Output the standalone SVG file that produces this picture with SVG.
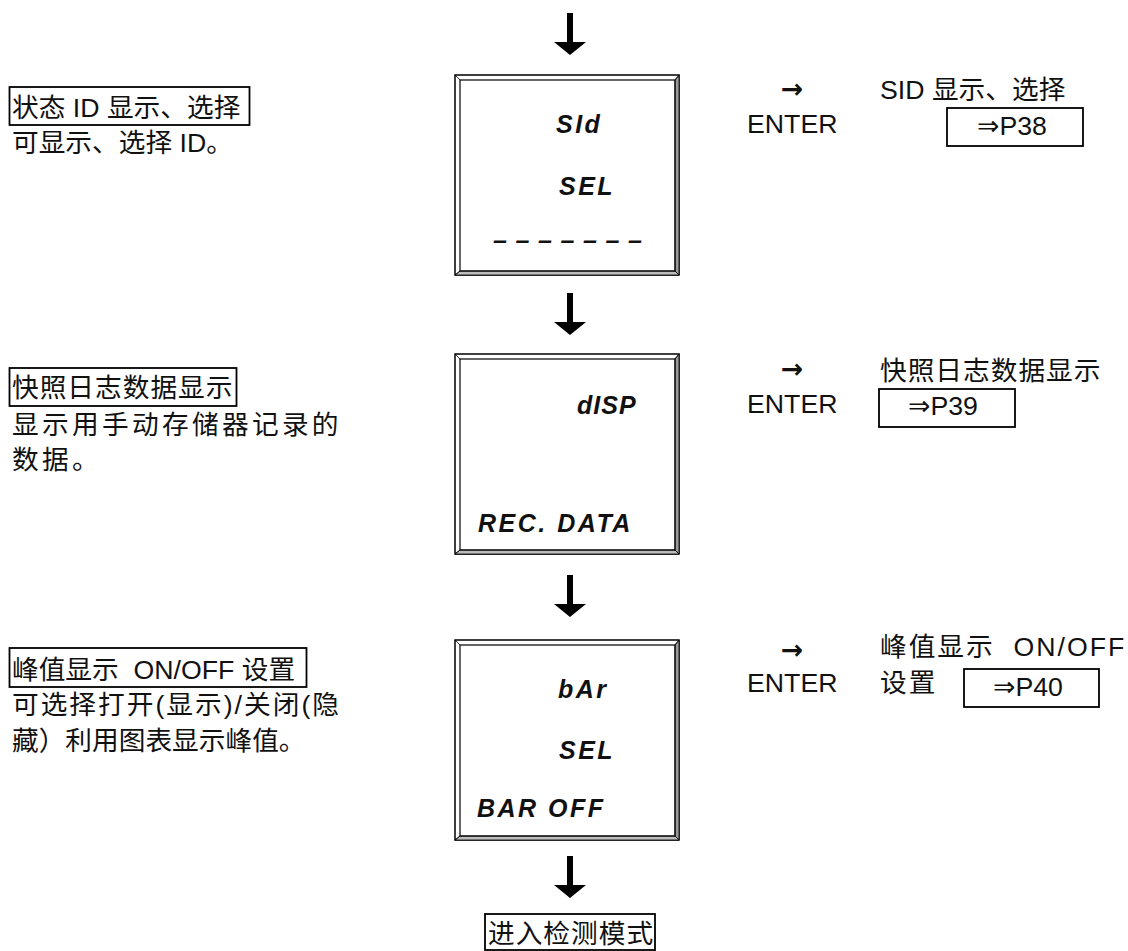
<svg xmlns="http://www.w3.org/2000/svg" width="1128" height="951" viewBox="0 0 1128 951">
<style>
  .t{font-family:"Liberation Sans","Noto Sans CJK SC",sans-serif;font-size:26.7px;fill:#111}
  .lcd{font-family:"Liberation Sans",Arial,sans-serif;font-size:25px;font-weight:bold;font-style:italic;letter-spacing:2.5px;fill:#111}
  .arr{font-family:"DejaVu Sans",sans-serif;font-size:26.7px;font-weight:bold;fill:#111}
  .sym{font-family:"DejaVu Sans",sans-serif}
  .frame{fill:#fff;stroke:#000;stroke-width:1.5}
  .inner{fill:none;stroke:#000;stroke-width:1.2}
  .bevR{fill:#9a9a9a;stroke:#000;stroke-width:0.8}
  .bevB{fill:#bdbdbd;stroke:#000;stroke-width:0.8}
  .lbl{fill:none;stroke:#000;stroke-width:1.8}
  .down{fill:#000}
</style>
<defs>
  <g id="lcdFrame">
    <rect class="frame" x="0" y="0" width="224" height="200"/>
    <polygon class="bevR" points="224,0 224,200 220,196 220,5"/>
    <polygon class="bevB" points="0,200 224,200 220,196 5,196"/>
    <rect class="inner" x="5" y="5" width="215" height="191"/>
    <line stroke="#000" stroke-width="0.8" x1="0" y1="0" x2="5" y2="5"/>
    <line stroke="#000" stroke-width="0.8" x1="224" y1="0" x2="220" y2="5"/>
    <line stroke="#000" stroke-width="0.8" x1="0" y1="200" x2="5" y2="196"/>
  </g>
  <path id="downArrow" d="M-3,0 H3 V29 H16 L0,42 L-16,29 H-3 Z"/>
</defs>

<g id="connectors">
  <use href="#downArrow" class="down" x="570" y="13"/>
  <use href="#downArrow" class="down" x="570" y="293"/>
  <use href="#downArrow" class="down" x="570" y="575"/>
  <use href="#downArrow" class="down" x="570" y="856"/>
</g>

<g id="lcd-sid">
  <use href="#lcdFrame" x="455" y="75"/>
  <text class="lcd" x="556" y="133">SId</text>
  <text class="lcd" x="559" y="195">SEL</text>
  <text class="lcd" x="493" y="249" style="letter-spacing:8.6px">–––––––</text>
</g>

<g id="lcd-disp">
  <use href="#lcdFrame" x="455" y="354"/>
  <text class="lcd" x="577" y="414" style="letter-spacing:1px">dISP</text>
  <text class="lcd" x="478" y="532">REC. DATA</text>
</g>

<g id="lcd-bar">
  <use href="#lcdFrame" x="455" y="640"/>
  <text class="lcd" x="558" y="698">bAr</text>
  <text class="lcd" x="559" y="759">SEL</text>
  <text class="lcd" x="477" y="817">BAR OFF</text>
</g>

<g id="desc-sid">
  <rect class="lbl" x="9.5" y="87" width="240" height="38"/>
  <text class="t" x="12" y="117">状态 ID 显示、选择</text>
  <text class="t" x="12" y="152">可显示、选择 ID。</text>
</g>

<g id="desc-disp">
  <rect class="lbl" x="9.5" y="368" width="227" height="38"/>
  <text class="t" x="12" y="397" style="letter-spacing:1px">快照日志数据显示</text>
  <text class="t" x="12" y="434" style="letter-spacing:3.3px">显示用手动存储器记录的</text>
  <text class="t" x="12" y="469" style="letter-spacing:3.3px">数据。</text>
</g>

<g id="desc-bar">
  <rect class="lbl" x="9.5" y="648" width="297" height="39"/>
  <text class="t" x="12" y="679" xml:space="preserve">峰值显示  ON/OFF 设置</text>
  <text class="t" x="12" y="714" style="letter-spacing:2px">可选择打开(显示)/关闭(隐</text>
  <text class="t" x="12" y="750">藏）利用图表显示峰值。</text>
</g>

<g id="enter-sid">
  <text class="arr" x="792" y="98" text-anchor="middle">→</text>
  <text class="t" x="747" y="133">ENTER</text>
  <text class="t" x="880" y="99">SID 显示、选择</text>
  <rect class="lbl" x="947" y="108" width="136" height="38"/>
  <text class="t" x="977" y="135"><tspan class="sym">⇒</tspan>P38</text>
</g>

<g id="enter-disp">
  <text class="arr" x="792" y="378" text-anchor="middle">→</text>
  <text class="t" x="747" y="413">ENTER</text>
  <text class="t" x="880" y="380" style="letter-spacing:1px">快照日志数据显示</text>
  <rect class="lbl" x="879" y="389" width="136" height="38"/>
  <text class="t" x="908" y="415"><tspan class="sym">⇒</tspan>P39</text>
</g>

<g id="enter-bar">
  <text class="arr" x="792" y="659" text-anchor="middle">→</text>
  <text class="t" x="747" y="692">ENTER</text>
  <text class="t" x="880" y="656" xml:space="preserve" style="letter-spacing:2px">峰值显示  ON/OFF</text>
  <text class="t" x="880" y="692" style="letter-spacing:2px">设置</text>
  <rect class="lbl" x="964" y="669" width="135" height="38"/>
  <text class="t" x="993" y="696"><tspan class="sym">⇒</tspan>P40</text>
</g>

<g id="measure-mode">
  <rect class="lbl" x="485" y="914" width="170" height="36"/>
  <text class="t" x="488" y="943" style="letter-spacing:1px">进入检测模式</text>
</g>
</svg>
